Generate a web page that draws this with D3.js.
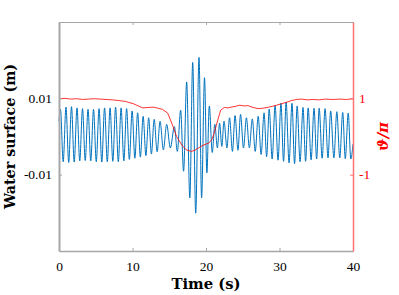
<!DOCTYPE html>
<html>
<head>
<meta charset="utf-8">
<script src="https://cdn.jsdelivr.net/npm/d3@7"></script>
<style>
  body { margin: 0; background: #fff; }
</style>
</head>
<body>
<svg id="chart" width="399" height="295"></svg>
<script>
// x ticks / y ticks
var timeTicks = [0, 10, 20, 30, 40],
    surfTicks = [-0.01, 0.01],
    phaseTicks = [-1, 1];

// water surface: peaks and troughs (time s, elevation m)
var peakTime = [0.2, 0.95, 1.7, 2.45, 3.2, 3.95, 4.7, 5.45, 6.2, 6.95, 7.7, 8.45, 9.2, 9.95,
  10.7, 11.45, 12.2, 12.95, 13.75, 14.65, 15.7, 16.55, 17.37, 18.19, 19.05, 19.8, 20.45,
  21.2, 21.85, 22.45, 23.2, 23.95, 24.7, 25.5, 26.3, 27.1, 27.9, 28.6, 29.4, 30.2, 30.9,
  31.7, 32.4, 33.2, 33.9, 34.7, 35.4, 36.2, 36.96, 37.8, 38.6, 39.35];
var peakValue = [0.0071, 0.0077, 0.0078, 0.0075, 0.0073, 0.0071, 0.0071, 0.0073, 0.0075,
  0.0075, 0.0077, 0.0075, 0.0073, 0.0067, 0.0062, 0.0053, 0.0049, 0.0045, 0.0040, 0.0032,
  0.0026, 0.0069, 0.0143, 0.0194, 0.0207, 0.0154, 0.0080, 0.0032, 0.0035, 0.0040, 0.0049,
  0.0055, 0.0058, 0.0049, 0.0046, 0.0053, 0.0062, 0.0072, 0.0081, 0.0087, 0.0090, 0.0087,
  0.0080, 0.0076, 0.0075, 0.0074, 0.0074, 0.0073, 0.0067, 0.0065, 0.0063, 0.0061];
var troughTime = [0.57, 1.32, 2.07, 2.82, 3.57, 4.32, 5.07, 5.82, 6.57, 7.32, 8.07, 8.82,
  9.57, 10.32, 11.07, 11.82, 12.57, 13.35, 14.2, 15.15, 16.1, 16.95, 17.8, 18.6, 19.4,
  20.12, 20.85, 21.55, 22.15, 22.85, 23.6, 24.35, 25.1, 25.9, 26.7, 27.5, 28.25, 29.0,
  29.8, 30.55, 31.3, 32.05, 32.8, 33.55, 34.3, 35.05, 35.8, 36.6, 37.4, 38.2, 38.95, 39.7];
var troughValue = [-0.0066, -0.0068, -0.0067, -0.0064, -0.0063, -0.0064, -0.0066, -0.0067,
  -0.0066, -0.0065, -0.0066, -0.0064, -0.0060, -0.0057, -0.0054, -0.0050, -0.0046, -0.0040,
  -0.0035, -0.0030, -0.0039, -0.0091, -0.0161, -0.0201, -0.0161, -0.0095, -0.0042, -0.0030,
  -0.0026, -0.0030, -0.0039, -0.0036, -0.0030, -0.0030, -0.0039, -0.0047, -0.0053, -0.0059,
  -0.0062, -0.0065, -0.0069, -0.0071, -0.0066, -0.0065, -0.0061, -0.0059, -0.0057, -0.0056,
  -0.0056, -0.0056, -0.0058, -0.0059];
var surfStart = [0, 0.004], surfEnd = [40, -0.002];

// phase theta/pi
var phaseTime = [0, 0.8, 1.6, 2.4, 3.2, 4.0, 4.8, 5.6, 6.4, 7.3, 8.2, 9.0, 10.1, 10.8, 11.4,
  12.1, 12.8, 13.5, 14.1, 14.8, 15.5, 16.0, 16.7, 17.3, 18.0, 18.5, 18.9, 19.6, 20.4, 20.8,
  21.1, 21.6, 22.0, 22.5, 23.0, 23.4, 24.0, 24.6, 25.2, 25.7, 26.4, 27.1, 27.7, 28.3, 29.0,
  29.6, 30.3, 31.0, 31.6, 32.3, 33.0, 33.8, 34.6, 35.4, 36.2, 37.3, 38.2, 39.1, 40];
var phaseValue = [0.99, 1.0, 0.98, 0.99, 0.97, 0.98, 0.99, 0.98, 0.97, 0.96, 0.94, 0.92,
  0.86, 0.80, 0.75, 0.76, 0.77, 0.74, 0.71, 0.61, 0.27, 0.0, -0.22, -0.35, -0.39, -0.36,
  -0.31, -0.23, -0.17, -0.08, 0.08, 0.43, 0.69, 0.76, 0.75, 0.77, 0.79, 0.82, 0.80, 0.81,
  0.76, 0.73, 0.74, 0.76, 0.79, 0.82, 0.86, 0.90, 0.94, 0.97, 0.98, 0.96, 0.97, 0.96, 0.98,
  0.97, 0.98, 0.97, 0.99];

var svg = d3.select("#chart"),
    plotLeft = 59, plotRight = 353, plotTop = 22, plotBottom = 251,
    gray = "#a6a6a6",
    x = d3.scaleLinear().domain([0, 40]).range([plotLeft, plotRight]),
    yL = d3.scaleLinear().domain([-0.03, 0.03]).range([plotBottom, plotTop]),
    yR = d3.scaleLinear().domain([-3, 3]).range([plotBottom, plotTop]);

var surf = [surfStart]
  .concat(peakTime.map(function(t, i) { return [t, peakValue[i]]; }))
  .concat(troughTime.map(function(t, i) { return [t, troughValue[i]]; }))
  .concat([surfEnd])
  .sort(function(a, b) { return a[0] - b[0]; });
var phase = phaseTime.map(function(t, i) { return [t, phaseValue[i]]; });

svg.append("path")
  .datum(surf)
  .attr("fill", "none")
  .attr("stroke", "#0072BD")
  .attr("stroke-width", 1)
  .attr("d", d3.line()
    .curve(d3.curveMonotoneX)
    .x(function(d) { return x(d[0]); })
    .y(function(d) { return yL(d[1]); }));

svg.append("path")
  .datum(phase)
  .attr("fill", "none")
  .attr("stroke", "#ff0000")
  .attr("stroke-width", 0.8)
  .attr("d", d3.line()
    .x(function(d) { return x(d[0]); })
    .y(function(d) { return yR(d[1]); }));

function styleAxis(g, color, width, textColor) {
  g.select(".domain").attr("stroke", color).attr("stroke-width", width);
  g.selectAll(".tick line").attr("stroke", color);
  g.selectAll(".tick text")
    .attr("fill", textColor)
    .style("font-family", "'Liberation Serif', serif")
    .style("font-size", "13.5px");
}

var bottomAxis = svg.append("g")
  .attr("transform", "translate(0," + plotBottom + ")")
  .call(d3.axisBottom(x).tickValues(timeTicks).tickSizeInner(-3).tickSizeOuter(0).tickPadding(10));
styleAxis(bottomAxis, gray, 1.5, "#000");

var topAxis = svg.append("g")
  .attr("transform", "translate(0," + plotTop + ")")
  .call(d3.axisTop(x).tickValues(timeTicks).tickSizeInner(-3).tickSizeOuter(0).tickFormat(""));
styleAxis(topAxis, gray, 1, "#000");

var leftAxis = svg.append("g")
  .attr("transform", "translate(" + plotLeft + ",0)")
  .call(d3.axisLeft(yL).tickValues(surfTicks).tickSizeInner(-3).tickSizeOuter(0).tickPadding(7)
    .tickFormat(function(d) { return d.toString(); }));
styleAxis(leftAxis, gray, 2, "#000");

var rightAxis = svg.append("g")
  .attr("transform", "translate(" + plotRight + ",0)")
  .call(d3.axisRight(yR).tickValues(phaseTicks).tickSizeInner(-3).tickSizeOuter(0).tickPadding(6)
    .tickFormat(function(d) { return d.toString(); }));
styleAxis(rightAxis, "#ff7373", 1.5, "#ff0000");

svg.append("text")
  .attr("x", (plotLeft + plotRight) / 2)
  .attr("y", 289)
  .attr("text-anchor", "middle")
  .style("font-family", "'DejaVu Serif', serif")
  .style("font-weight", "bold")
  .style("font-size", "14.8px")
  .text("Time (s)");

svg.append("text")
  .attr("transform", "translate(15," + (plotTop + plotBottom) / 2 + ") rotate(-90)")
  .attr("text-anchor", "middle")
  .style("font-family", "'DejaVu Serif', serif")
  .style("font-weight", "bold")
  .style("font-size", "14.3px")
  .text("Water surface (m)");

svg.append("text")
  .attr("transform", "translate(388," + (plotTop + plotBottom) / 2 + ") rotate(-90)")
  .attr("text-anchor", "middle")
  .attr("fill", "#ff0000")
  .style("font-family", "'DejaVu Serif', serif")
  .style("font-weight", "bold")
  .style("font-style", "italic")
  .style("font-size", "15px")
  .text("ϑ/π");
</script>
</body>
</html>
